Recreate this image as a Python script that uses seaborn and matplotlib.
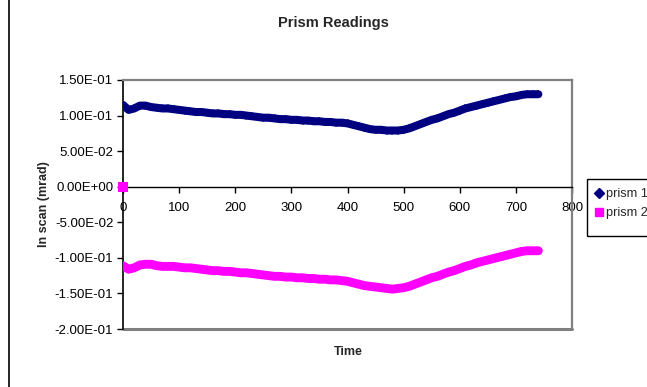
import matplotlib
matplotlib.use("Agg")
import matplotlib.pyplot as plt
from matplotlib.ticker import FuncFormatter, MultipleLocator
from matplotlib.lines import Line2D
from matplotlib.patches import Rectangle
import seaborn as sns
import pandas as pd

# Readings (time step of 10)
time = list(range(0, 750, 10))
prism1 = [
    0.115, 0.108, 0.110, 0.114, 0.114, 0.112, 0.111, 0.110, 0.110, 0.109,
    0.108, 0.107, 0.106, 0.105, 0.105, 0.104, 0.103, 0.103, 0.102, 0.102,
    0.101, 0.101, 0.100, 0.099, 0.098, 0.097, 0.097, 0.096, 0.095, 0.095,
    0.094, 0.094, 0.093, 0.093, 0.092, 0.092, 0.091, 0.091, 0.090, 0.090,
    0.089, 0.087, 0.085, 0.083, 0.081, 0.080, 0.080, 0.079, 0.079, 0.079,
    0.080, 0.082, 0.085, 0.088, 0.091, 0.094, 0.096, 0.099, 0.102, 0.104,
    0.107, 0.110, 0.112, 0.114, 0.116, 0.118, 0.120, 0.122, 0.124, 0.126,
    0.127, 0.129, 0.130, 0.130, 0.130,
]
prism2 = [
    -0.111, -0.116, -0.114, -0.110, -0.109, -0.109, -0.111, -0.112, -0.112, -0.112,
    -0.113, -0.114, -0.114, -0.115, -0.116, -0.117, -0.118, -0.118, -0.119, -0.119,
    -0.120, -0.121, -0.121, -0.122, -0.123, -0.124, -0.125, -0.126, -0.126, -0.127,
    -0.127, -0.128, -0.128, -0.129, -0.129, -0.130, -0.130, -0.131, -0.131, -0.132,
    -0.133, -0.135, -0.137, -0.139, -0.140, -0.141, -0.142, -0.143, -0.144, -0.143,
    -0.142, -0.140, -0.137, -0.134, -0.131, -0.128, -0.126, -0.123, -0.120, -0.118,
    -0.115, -0.112, -0.110, -0.107, -0.105, -0.103, -0.101, -0.099, -0.097, -0.095,
    -0.093, -0.091, -0.090, -0.090, -0.090,
]
# prism 2 also logs a zero reading at the start
prism2_start_time = [0]
prism2_start_value = [0.0]

series_names = ["prism 1", "prism 2"]
colors = {"prism 1": "#000080", "prism 2": "#FF00FF"}
markers = {"prism 1": "D", "prism 2": "s"}

df1 = pd.DataFrame({"Time": time, "value": prism1})
df2 = pd.DataFrame({"Time": time, "value": prism2})
df2_start = pd.DataFrame({"Time": prism2_start_time, "value": prism2_start_value})

sns.set_theme(style="white")
plt.rcParams["font.family"] = ["Liberation Sans", "DejaVu Sans"]

W, H = 647, 387
fig = plt.figure(figsize=(W / 100, H / 100), dpi=100)
ax = fig.add_axes([123 / W, 1 - 329 / H, (572 - 123) / W, (329 - 80) / H])

# Densely packed markers form a thick band along each series
sns.lineplot(data=df1, x="Time", y="value", ax=ax, color=colors["prism 1"],
             linewidth=5.8, marker="D", markersize=4.2, markeredgewidth=0,
             solid_capstyle="round", solid_joinstyle="round", zorder=3,
             estimator=None, sort=False)
sns.lineplot(data=df2, x="Time", y="value", ax=ax, color=colors["prism 2"],
             linewidth=6.4, marker="s", markersize=4, markeredgewidth=0,
             solid_capstyle="round", solid_joinstyle="round", zorder=3,
             estimator=None, sort=False)
sns.scatterplot(data=df2_start, x="Time", y="value", ax=ax,
                color=colors["prism 2"], marker="s", s=42, linewidth=0,
                legend=False, zorder=4, clip_on=False)

ax.set_xlim(0, 800)
ax.set_ylim(-0.2, 0.15)
ax.xaxis.set_major_locator(MultipleLocator(100))
ax.yaxis.set_major_locator(MultipleLocator(0.05))
ax.yaxis.set_major_formatter(FuncFormatter(lambda v, p: f"{v:.2E}"))

# Axis lines: y axis on the left, x axis through zero; grey plot-area frame
ax.spines["left"].set_color("black")
ax.spines["left"].set_linewidth(1.2)
ax.spines["bottom"].set_position(("data", 0))
ax.spines["bottom"].set_color("black")
ax.spines["bottom"].set_linewidth(1.0)
for s in ("top", "right"):
    ax.spines[s].set_color("#808080")
    ax.spines[s].set_linewidth(1.6)
ax.axhline(-0.2, color="#808080", lw=2.2, zorder=1, clip_on=False)

ax.tick_params(axis="both", which="major", direction="out", length=4,
               width=1, color="black", labelsize=9.5, labelcolor="black")
ax.tick_params(axis="x", bottom=True, pad=7)
ax.tick_params(axis="y", left=True, pad=3)

ax.set_xlabel("")
ax.set_ylabel("")
fig.text(348 / W, 1 - 352 / H, "Time", ha="center", va="center",
         fontsize=9, fontweight="bold")
fig.text(44 / W, 1 - 204 / H, "In scan (mrad)", ha="center", va="center",
         rotation=90, fontsize=9, fontweight="bold")
fig.text(333 / W, 1 - 23 / H, "Prism Readings", ha="center", va="center",
         fontsize=10.5, fontweight="bold")

# Legend: entries without frame, boxed by a separate outline
handles = [Line2D([], [], linestyle="none", marker=markers[n], color=colors[n],
                  markersize=5 if n == "prism 1" else 6) for n in series_names]
leg = ax.legend(handles, series_names, loc="upper left",
                bbox_to_anchor=(595 / W, 1 - 188 / H),
                bbox_transform=fig.transFigure, borderaxespad=0,
                frameon=False, fontsize=9.2, borderpad=0,
                handlelength=0.6, handletextpad=0.3, labelspacing=0.55)
fig.add_artist(Rectangle((587 / W, 1 - 236 / H), 80 / W, 57 / H,
                         transform=fig.transFigure, fill=False,
                         edgecolor="black", linewidth=1.0))

# Chart-area outline (left edge)
fig.add_artist(Line2D([9 / W, 9 / W], [0, 1], transform=fig.transFigure,
                      color="black", lw=1.2))

fig.savefig("out.png", dpi=100)
